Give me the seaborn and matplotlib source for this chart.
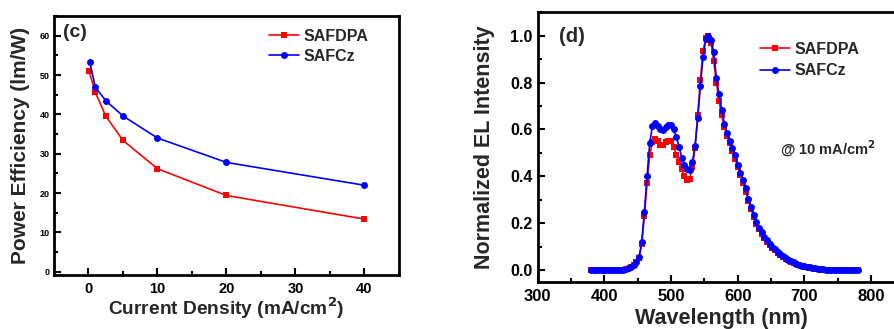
import numpy as np
import pandas as pd
import matplotlib
matplotlib.use("Agg")
import matplotlib.pyplot as plt
from matplotlib.ticker import MultipleLocator, FormatStrFormatter
import seaborn as sns

# ---- Power efficiency vs current density ----
current_safdpa = [0.1, 1.0, 2.5, 5.0, 10.0, 20.0, 40.0]
pe_safdpa = [50.9, 45.6, 39.6, 33.4, 26.2, 19.4, 13.4]
current_safcz = [0.2, 1.0, 2.5, 5.0, 10.0, 20.0, 40.0]
pe_safcz = [53.2, 46.9, 43.5, 39.6, 34.0, 27.8, 22.0]

# ---- EL spectra at 10 mA/cm2 ----
wavelength = list(range(380, 781, 4))
el_safdpa = [0.0] * 12 + [
    0.002, 0.004, 0.006, 0.011, 0.020, 0.033, 0.050, 0.110, 0.230, 0.370,
    0.490, 0.545, 0.560, 0.550, 0.535, 0.535, 0.545, 0.550, 0.550, 0.525,
    0.490, 0.460, 0.430, 0.400, 0.385, 0.390, 0.440, 0.520, 0.660, 0.810,
    0.935, 0.990, 1.000, 0.970, 0.890, 0.800, 0.720, 0.660, 0.610, 0.570,
    0.540, 0.510, 0.475, 0.440, 0.405, 0.370, 0.335, 0.295, 0.260, 0.228,
    0.198, 0.173, 0.153, 0.135, 0.120, 0.107, 0.095, 0.084, 0.074, 0.064,
    0.056, 0.048, 0.041, 0.035, 0.030, 0.025, 0.021, 0.017, 0.014, 0.012,
    0.010, 0.008, 0.006, 0.004, 0.003, 0.002, 0.001, 0.001,
] + [0.0] * 11
el_safcz = [0.0] * 12 + [
    0.002, 0.004, 0.007, 0.012, 0.022, 0.035, 0.054, 0.120, 0.247, 0.400,
    0.540, 0.615, 0.628, 0.615, 0.600, 0.598, 0.610, 0.617, 0.620, 0.600,
    0.567, 0.527, 0.480, 0.450, 0.430, 0.428, 0.460, 0.530, 0.648, 0.787,
    0.910, 0.985, 1.000, 0.980, 0.930, 0.820, 0.750, 0.685, 0.624, 0.584,
    0.550, 0.520, 0.490, 0.450, 0.415, 0.385, 0.348, 0.304, 0.270, 0.235,
    0.205, 0.180, 0.160, 0.142, 0.127, 0.113, 0.100, 0.089, 0.078, 0.068,
    0.059, 0.051, 0.044, 0.038, 0.032, 0.027, 0.023, 0.019, 0.016, 0.013,
    0.011, 0.009, 0.007, 0.005, 0.004, 0.003, 0.002, 0.001,
] + [0.0] * 11

sns.set_theme(style="ticks")
plt.rcParams["font.family"] = ["Liberation Sans", "DejaVu Sans"]
plt.rcParams["font.weight"] = "bold"
plt.rcParams["axes.labelweight"] = "bold"
plt.rcParams["mathtext.default"] = "bf"

RED = "#ff0000"
BLUE = "#0000ff"

fig = plt.figure(figsize=(8.95, 3.29), dpi=100)
ax1 = fig.add_axes([0.0603, 0.1641, 0.3855, 0.7873])
ax2 = fig.add_axes([0.6008, 0.1438, 0.4097, 0.8188])


def style_axes(ax):
    for s in ax.spines.values():
        s.set_linewidth(2.0)
        s.set_color("black")
    ax.tick_params(which="both", direction="in", top=False, right=False,
                   width=1.5, colors="black")
    ax.tick_params(which="major", length=5)
    ax.tick_params(which="minor", length=3)


# Left panel
sns.lineplot(x=current_safdpa, y=pe_safdpa, ax=ax1, color=RED, marker="s",
             markersize=4.3, markeredgewidth=0, linewidth=1.2, label="SAFDPA")
sns.lineplot(x=current_safcz, y=pe_safcz, ax=ax1, color=BLUE, marker="o",
             markersize=5, markeredgewidth=0, linewidth=1.2, label="SAFCz")
ax1.set_xlim(-5, 45)
ax1.set_ylim(-0.8, 65)
ax1.xaxis.set_major_locator(MultipleLocator(10))
ax1.xaxis.set_minor_locator(MultipleLocator(5))
ax1.yaxis.set_major_locator(MultipleLocator(10))
ax1.yaxis.set_minor_locator(MultipleLocator(5))
style_axes(ax1)
ax1.tick_params(axis="x", labelsize=10.5, pad=5)
ax1.tick_params(axis="y", labelsize=6.5, pad=3)
ax1.set_xlabel("Current Density (mA/cm$^{2}$)", fontsize=13.8, labelpad=0)
ax1.set_ylabel("Power Efficiency (lm/W)", fontsize=15, labelpad=7)
ax1.text(0.026, 0.935, "(c)", transform=ax1.transAxes, fontsize=14,
         fontweight="bold", va="center", ha="left")
ax1.legend(loc="upper left", bbox_to_anchor=(0.622, 0.95), frameon=False,
           fontsize=11.5, handlelength=1.9, handletextpad=0.3,
           labelspacing=0.3, borderpad=0, borderaxespad=0)

# Right panel
sns.lineplot(x=wavelength, y=el_safdpa, ax=ax2, color=RED, marker="s",
             markersize=4.3, markeredgewidth=0, linewidth=1.2, label="SAFDPA")
sns.lineplot(x=wavelength, y=el_safcz, ax=ax2, color=BLUE, marker="o",
             markersize=5, markeredgewidth=0, linewidth=1.2, label="SAFCz")
ax2.set_xlim(300, 850)
ax2.set_ylim(-0.05, 1.1)
ax2.xaxis.set_major_locator(MultipleLocator(100))
ax2.xaxis.set_minor_locator(MultipleLocator(50))
ax2.yaxis.set_major_locator(MultipleLocator(0.2))
ax2.yaxis.set_minor_locator(MultipleLocator(0.1))
ax2.yaxis.set_major_formatter(FormatStrFormatter("%.1f"))
style_axes(ax2)
ax2.tick_params(axis="x", labelsize=12, pad=5)
ax2.tick_params(axis="y", labelsize=11.5)
ax2.set_xlabel("Wavelength (nm)", fontsize=15.5, labelpad=3)
ax2.set_ylabel("Normalized EL Intensity", fontsize=15.5, labelpad=11)
ax2.text(0.058, 0.912, "(d)", transform=ax2.transAxes, fontsize=14.5,
         fontweight="bold", va="center", ha="left")
ax2.text(663, 0.515, "@ 10 mA/cm$^{2}$", fontsize=10.5, fontweight="bold",
         va="center", ha="left")
ax2.legend(loc="upper left", bbox_to_anchor=(0.605, 0.89), frameon=False,
           fontsize=11.5, handlelength=1.9, handletextpad=0.3,
           labelspacing=0.4, borderpad=0, borderaxespad=0)

fig.savefig("out.png", dpi=100)
